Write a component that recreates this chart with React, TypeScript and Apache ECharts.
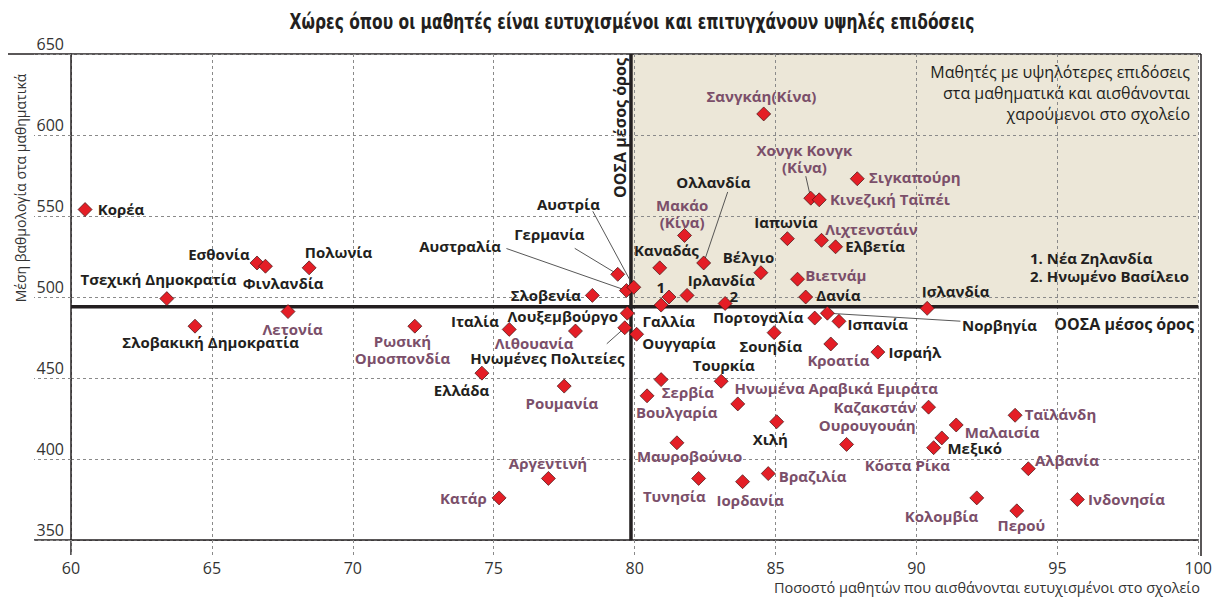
import React, { useEffect, useRef } from "react";
import * as echarts from "echarts";

// Display names of the countries (1 = Νέα Ζηλανδία, 2 = Ηνωμένο Βασίλειο)
const labels = [
  "Κορέα", "Εσθονία", "Φινλανδία", "Πολωνία", "Τσεχική Δημοκρατία", "Σλοβακική Δημοκρατία",
  "Λετονία", "Ρωσική\nΟμοσπονδία", "Ιταλία", "Λιθουανία", "Λουξεμβούργο", "Ηνωμένες Πολιτείες",
  "Σλοβενία", "Αυστραλία", "Γερμανία", "Αυστρία", "Ουγγαρία", "Γαλλία", "1", "Καναδάς",
  "Ιρλανδία", "Μακάο\n(Κίνα)", "Ολλανδία", "2", "Σανγκάη(Κίνα)", "Χονγκ Κονγκ\n(Κίνα)",
  "Κινεζική Ταϊπέι", "Σιγκαπούρη", "Ιαπωνία", "Λιχτενστάιν", "Ελβετία", "Βέλγιο", "Βιετνάμ",
  "Δανία", "Ισλανδία", "Πορτογαλία", "Νορβηγία", "Ισπανία", "Σουηδία", "Κροατία", "Ισραήλ",
  "Ελλάδα", "Ρουμανία", "Σερβία", "Βουλγαρία", "Τουρκία", "Ηνωμένα Αραβικά Εμιράτα",
  "Καζακστάν", "Ταϊλάνδη", "Χιλή", "Μαλαισία", "Μεξικό", "Μαυροβούνιο", "Ουρουγουάη",
  "Κόστα Ρίκα", "Αλβανία", "Βραζιλία", "Αργεντινή", "Τυνησία", "Ιορδανία", "Κολομβία",
  "Κατάρ", "Ινδονησία", "Περού",
];

// % of students who feel happy at school
const happy = [
  60.5, 66.6, 66.9, 68.45, 63.4, 64.4,
  67.7, 72.2, 75.55, 77.9, 79.74, 79.65,
  78.5, 79.71, 79.4, 79.97, 80.07, 80.94, 81.22, 80.89,
  81.86, 81.77, 82.45, 83.21, 84.58, 86.25,
  86.55, 87.9, 85.42, 86.63, 87.13, 84.48, 85.78,
  86.07, 90.38, 86.39, 86.84, 87.25, 84.95, 86.96, 88.63,
  74.58, 77.5, 80.94, 80.44, 83.07, 83.66,
  90.43, 93.5, 85.04, 91.41, 90.9, 81.5, 87.52,
  90.61, 93.97, 84.74, 76.94, 82.27, 83.83, 92.14,
  75.19, 95.71, 93.56,
];

// Mean mathematics score
const math = [
  554, 521, 519, 518, 499, 482,
  491, 482, 480, 479, 490, 481,
  501, 504, 514, 506, 477, 495, 500, 518,
  501, 538, 521, 496, 613, 561,
  560, 573, 536, 535, 531, 515, 511,
  500, 493, 487, 490, 485, 478, 471, 466,
  453, 445, 449, 439, 448, 434,
  432, 427, 423, 421, 413, 410, 409,
  407, 394, 391, 388, 388, 386, 376,
  376, 375, 368,
];

// Partner (non-OECD) economies, drawn in purple
const partners = [
  "Λετονία", "Ρωσική\nΟμοσπονδία", "Λιθουανία", "Μακάο\n(Κίνα)", "Σανγκάη(Κίνα)",
  "Χονγκ Κονγκ\n(Κίνα)", "Κινεζική Ταϊπέι", "Σιγκαπούρη", "Λιχτενστάιν", "Βιετνάμ",
  "Κροατία", "Ρουμανία", "Σερβία", "Βουλγαρία", "Ηνωμένα Αραβικά Εμιράτα", "Καζακστάν",
  "Ταϊλάνδη", "Μαλαισία", "Μαυροβούνιο", "Ουρουγουάη", "Κόστα Ρίκα", "Αλβανία",
  "Βραζιλία", "Αργεντινή", "Τυνησία", "Ιορδανία", "Κολομβία", "Κατάρ", "Ινδονησία", "Περού",
];

const OECD_HAPPY = 79.87;
const OECD_MATH = 494;

const xTicks = { min: 60, max: 100, interval: 5 };
const yTicks = { min: 350, max: 650, interval: 50 };

// Label placement (style): pixel offset from marker centre and text alignment
const labelPlace: Record<string, [number, number, string]> = {
  "Κορέα": [13, 0, "left"],
  "Εσθονία": [-7, -9, "right"],
  "Φινλανδία": [18, 17, "center"],
  "Πολωνία": [-4, -15, "left"],
  "Τσεχική Δημοκρατία": [-8, -19, "center"],
  "Σλοβακική Δημοκρατία": [16, 16, "center"],
  "Λετονία": [5, 18, "center"],
  "Ρωσική\nΟμοσπονδία": [-12, 24, "center"],
  "Ιταλία": [-10, -8, "right"],
  "Λιθουανία": [-41, 12, "center"],
  "Λουξεμβούργο": [-9, 3, "right"],
  "Ηνωμένες Πολιτείες": [-77, 31, "center"],
  "Σλοβενία": [-11, 0, "right"],
  "Αυστραλία": [-166, -44, "center"],
  "Γερμανία": [-68, -40, "center"],
  "Αυστρία": [-65, -83, "center"],
  "Ουγγαρία": [6, 9, "left"],
  "Γαλλία": [8, 16, "center"],
  "1": [-8, -10, "center"],
  "Καναδάς": [7, -17, "center"],
  "Ιρλανδία": [1, -15, "left"],
  "Μακάο\n(Κίνα)": [-2, -22, "center"],
  "Ολλανδία": [10, -81, "center"],
  "2": [9, -7, "center"],
  "Σανγκάη(Κίνα)": [-2, -18, "center"],
  "Χονγκ Κονγκ\n(Κίνα)": [-6, -39, "center"],
  "Κινεζική Ταϊπέι": [11, 0, "left"],
  "Σιγκαπούρη": [12, -1, "left"],
  "Ιαπωνία": [-1, -16, "center"],
  "Λιχτενστάιν": [4, -11, "left"],
  "Ελβετία": [10, 0, "left"],
  "Βέλγιο": [-12, -15, "center"],
  "Βιετνάμ": [8, -4, "left"],
  "Δανία": [11, -2, "left"],
  "Ισλανδία": [-5, -17, "left"],
  "Πορτογαλία": [-11, -1, "right"],
  "Νορβηγία": [135, 12, "left"],
  "Ισπανία": [9, 3, "left"],
  "Σουηδία": [-3, 14, "center"],
  "Κροατία": [8, 16, "center"],
  "Ισραήλ": [11, 0, "left"],
  "Ελλάδα": [-20, 17, "center"],
  "Ρουμανία": [-2, 17, "center"],
  "Σερβία": [27, 13, "center"],
  "Βουλγαρία": [30, 17, "center"],
  "Τουρκία": [3, -16, "center"],
  "Ηνωμένα Αραβικά Εμιράτα": [-3, -16, "left"],
  "Καζακστάν": [-12, 0, "right"],
  "Ταϊλάνδη": [10, -1, "left"],
  "Χιλή": [-6, 18, "center"],
  "Μαλαισία": [9, 7, "left"],
  "Μεξικό": [6, 10, "left"],
  "Μαυροβούνιο": [13, 14, "center"],
  "Ουρουγουάη": [21, -19, "center"],
  "Κόστα Ρίκα": [-26, 18, "center"],
  "Αλβανία": [7, -8, "left"],
  "Βραζιλία": [11, 3, "left"],
  "Αργεντινή": [0, -15, "center"],
  "Τυνησία": [-24, 18, "center"],
  "Ιορδανία": [8, 19, "center"],
  "Κολομβία": [-35, 18, "center"],
  "Κατάρ": [-12, 0, "right"],
  "Ινδονησία": [11, 0, "left"],
  "Περού": [5, 15, "center"],
};

// Leader lines (style): pixel end offset from marker centre
const leaderPlace: Record<string, [number, number]> = {
  "Αυστρία": [-41, -76],
  "Γερμανία": [-43, -26],
  "Αυστραλία": [-120, -42],
  "Ολλανδία": [24, -71],
  "Ηνωμένες Πολιτείες": [-18, 16],
  "Χονγκ Κονγκ\n(Κίνα)": [-5, -22],
  "Νορβηγία": [133, 8],
};

const BLACK = "#231f20";
const PURPLE = "#7b4f6a";
const LABEL_FONT = '"Open Sans", "Noto Sans", "DejaVu Sans", sans-serif';
const SYM = 14;

export default function App() {
  const ref = useRef<HTMLDivElement>(null);

  useEffect(() => {
    if (!ref.current) return;
    const chart = echarts.init(ref.current, undefined, { renderer: "svg" });

    const scatterData = labels.map((name, i) => {
      const p = labelPlace[name] || [10, 0, "left"];
      return {
        name,
        value: [happy[i], math[i]],
        label: {
          show: true,
          position: [SYM / 2 + p[0], SYM / 2 + p[1]],
          align: p[2],
          verticalAlign: "middle",
          color: partners.includes(name) ? PURPLE : BLACK,
        },
      };
    });

    const leaderData = labels
      .map((name, i) =>
        leaderPlace[name] ? [happy[i], math[i], leaderPlace[name][0], leaderPlace[name][1]] : null
      )
      .filter((d) => d !== null);

    const option: any = {
      animation: false,
      grid: { left: 71, right: 14, top: 54, bottom: 57 },
      xAxis: {
        type: "value",
        min: xTicks.min,
        max: xTicks.max,
        interval: xTicks.interval,
        axisLine: { show: true, lineStyle: { color: BLACK, width: 1.5 } },
        axisTick: { show: true, length: 15, lineStyle: { color: "#8a8a8a", type: [3, 3], width: 1 } },
        splitLine: { show: true, lineStyle: { color: "#8a8a8a", type: [3, 3], width: 1 } },
        axisLabel: {
          margin: 20,
          fontSize: 16,
          color: "#333",
          fontFamily: LABEL_FONT,
        },
      },
      yAxis: {
        type: "value",
        min: yTicks.min,
        max: yTicks.max,
        interval: yTicks.interval,
        axisLine: { show: true, lineStyle: { color: BLACK, width: 1.5 } },
        axisTick: { show: true, length: 37, lineStyle: { color: "#8a8a8a", type: [3, 3], width: 1 } },
        splitLine: { show: true, lineStyle: { color: "#8a8a8a", type: [3, 3], width: 1 } },
        axisLabel: {
          margin: 7,
          fontSize: 16,
          color: "#333",
          fontFamily: LABEL_FONT,
          verticalAlign: "bottom",
          padding: [0, 0, 2, 0],
        },
      },
      series: [
        {
          type: "custom",
          z: -1,
          silent: true,
          data: [[OECD_HAPPY, OECD_MATH]],
          renderItem: (params: any, api: any) => {
            const p0 = api.coord([api.value(0), yTicks.max]);
            const p1 = api.coord([xTicks.max, api.value(1)]);
            return {
              type: "rect",
              shape: { x: p0[0], y: p0[1], width: p1[0] - p0[0], height: p1[1] - p0[1] },
              style: { fill: "#ece7d8" },
            };
          },
        },
        {
          type: "custom",
          z: 1,
          silent: true,
          data: [[OECD_HAPPY, OECD_MATH]],
          renderItem: (params: any, api: any) => {
            const v0 = api.coord([api.value(0), yTicks.min]);
            const v1 = api.coord([api.value(0), yTicks.max]);
            const h0 = api.coord([xTicks.min, api.value(1)]);
            const h1 = api.coord([xTicks.max, api.value(1)]);
            return {
              type: "group",
              children: [
                {
                  type: "line",
                  shape: { x1: v0[0], y1: v0[1], x2: v1[0], y2: v1[1] },
                  style: { stroke: BLACK, lineWidth: 3.5 },
                },
                {
                  type: "line",
                  shape: { x1: h0[0], y1: h0[1], x2: h1[0], y2: h1[1] },
                  style: { stroke: BLACK, lineWidth: 3.5 },
                },
              ],
            };
          },
        },
        {
          type: "custom",
          z: 1,
          silent: true,
          data: leaderData,
          renderItem: (params: any, api: any) => {
            const p = api.coord([api.value(0), api.value(1)]);
            return {
              type: "line",
              shape: { x1: p[0], y1: p[1], x2: p[0] + api.value(2), y2: p[1] + api.value(3) },
              style: { stroke: "#444", lineWidth: 0.9 },
            };
          },
        },
        {
          type: "scatter",
          z: 2,
          symbol: "diamond",
          symbolSize: SYM,
          itemStyle: { color: "#e41e26", borderColor: "#3d1414", borderWidth: 0.7, opacity: 1 },
          label: {
            show: true,
            formatter: "{b}",
            fontFamily: LABEL_FONT,
            fontWeight: "bold",
            fontSize: 15,
            lineHeight: 17,
          },
          data: scatterData,
        },
      ],
      graphic: [
        {
          type: "text",
          x: 632,
          y: 22,
          scaleX: 0.82,
          style: {
            text: "Χώρες όπου οι μαθητές είναι ευτυχισμένοι και επιτυγχάνουν υψηλές επιδόσεις",
            font: 'bold 21px "Liberation Sans Narrow", "DejaVu Sans Condensed", "Roboto", sans-serif',
            fill: BLACK,
            align: "center",
            verticalAlign: "middle",
          },
        },
        {
          type: "text",
          x: 20,
          y: 188,
          rotation: Math.PI / 2,
          style: {
            text: "Μέση βαθμολογία στα μαθηματικά",
            font: '14px "Open Sans", "Noto Sans", sans-serif',
            fill: "#333",
            align: "center",
            verticalAlign: "middle",
          },
        },
        {
          type: "text",
          x: 1200,
          y: 587,
          style: {
            text: "Ποσοστό μαθητών που αισθάνονται ευτυχισμένοι στο σχολείο",
            font: '14.5px "Open Sans", "Noto Sans", sans-serif',
            fill: "#333",
            align: "right",
            verticalAlign: "middle",
          },
        },
        {
          type: "text",
          x: 620,
          y: 128,
          rotation: Math.PI / 2,
          style: {
            text: "ΟΟΣΑ μέσος όρος",
            font: 'bold 16px "Open Sans", "Noto Sans", sans-serif',
            fill: BLACK,
            align: "center",
            verticalAlign: "middle",
          },
        },
        {
          type: "text",
          x: 1194,
          y: 324,
          style: {
            text: "ΟΟΣΑ μέσος όρος",
            font: 'bold 16px "Open Sans", "Noto Sans", sans-serif',
            fill: BLACK,
            align: "right",
            verticalAlign: "middle",
          },
        },
        {
          type: "text",
          x: 1190,
          y: 61,
          style: {
            text: "Μαθητές με υψηλότερες επιδόσεις\nστα μαθηματικά και αισθάνονται\nχαρούμενοι στο σχολείο",
            font: '16px "Open Sans", "Noto Sans", sans-serif',
            lineHeight: 21,
            fill: BLACK,
            align: "right",
            verticalAlign: "top",
          },
        },
        {
          type: "text",
          x: 1030,
          y: 267,
          style: {
            text: "1. Νέα Ζηλανδία\n2. Ηνωμένο Βασίλειο",
            font: 'bold 15px "Open Sans", "Noto Sans", sans-serif',
            lineHeight: 18,
            fill: BLACK,
            align: "left",
            verticalAlign: "middle",
          },
        },
        {
          type: "line",
          shape: { x1: 8, y1: 54, x2: 1201, y2: 54 },
          style: { stroke: BLACK, lineWidth: 1.5 },
        },
        {
          type: "line",
          shape: { x1: 1201, y1: 54, x2: 1201, y2: 556 },
          style: { stroke: BLACK, lineWidth: 1.5 },
        },
        {
          type: "line",
          shape: { x1: 71, y1: 540, x2: 71, y2: 555 },
          style: { stroke: BLACK, lineWidth: 1.5 },
        },
        {
          type: "line",
          shape: { x1: 34, y1: 540, x2: 71, y2: 540 },
          style: { stroke: BLACK, lineWidth: 1.5 },
        },
      ],
    };

    chart.setOption(option);
    return () => chart.dispose();
  }, []);

  return (
    <div
      ref={ref}
      style={{ position: "fixed", left: 0, top: 0, width: 1215, height: 597, background: "#fff" }}
    />
  );
}
